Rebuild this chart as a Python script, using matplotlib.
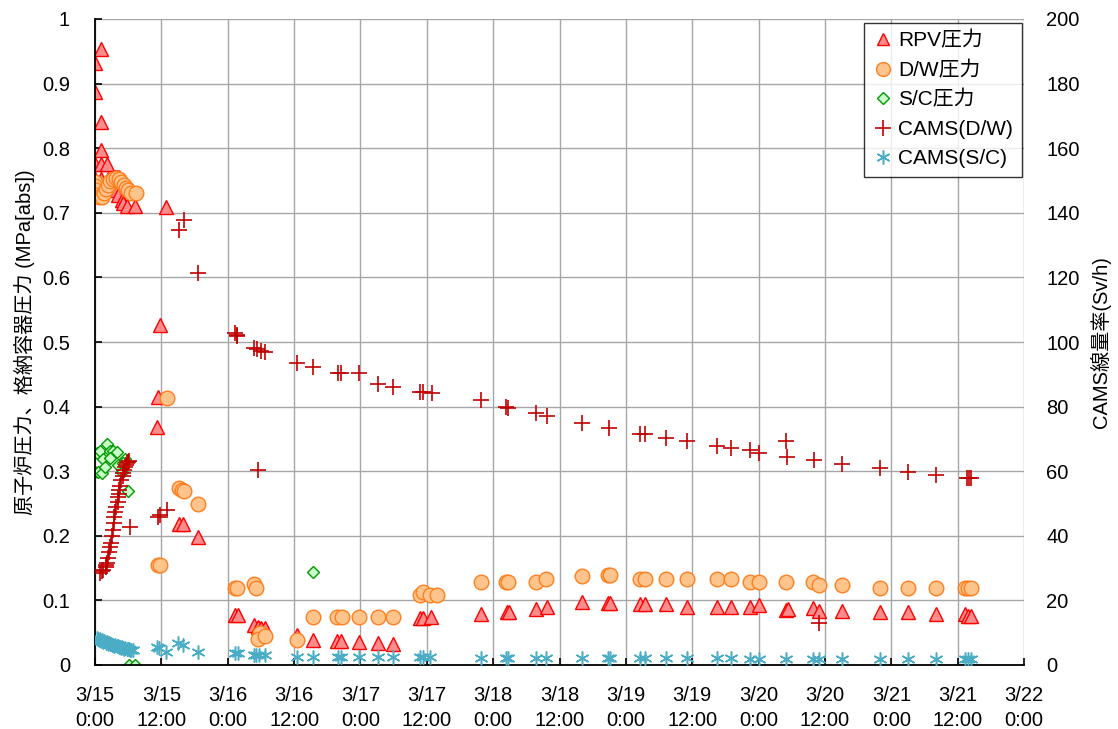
import matplotlib
matplotlib.use("Agg")
import matplotlib.pyplot as plt
from matplotlib.lines import Line2D

plt.rcParams['font.family'] = ['Liberation Sans', 'Noto Sans CJK JP', 'DejaVu Sans']

# hours since 3/15 0:00
rpv_t = [0, 1, 0, 1, 1, 0, 1, 2.2, 0, 1, 2.3, 3.3, 3.6, 4.0, 4.3, 3.9, 4.1, 4.8, 5.1, 5.8, 7.2, 12.8,
         11.2, 11.4, 11.8, 15.2, 15.9, 18.6,
         25.3, 25.9, 28.8, 29.5, 30.1, 30.7, 36.5, 39.5, 43.7, 44.5, 47.7, 51.1, 53.9, 58.8, 59.4, 60.7,
         69.8, 74.5, 74.9, 79.7, 81.7, 88, 92.8, 93.2, 98.6, 99.5, 103.3, 107, 112.5, 115,
         118.4, 120, 125, 125.3, 129.8, 131, 135, 142, 147, 152, 157.3, 157.9, 158.5]
rpv_p = [0.932, 0.954, 0.887, 0.841, 0.797, 0.775, 0.775, 0.775, 0.752, 0.752, 0.752, 0.756, 0.756, 0.756, 0.756,
         0.735, 0.727, 0.72, 0.715, 0.71, 0.71, 0.709,
         0.369, 0.415, 0.526, 0.218, 0.218, 0.198,
         0.077, 0.077, 0.062, 0.059, 0.058, 0.057, 0.047, 0.039, 0.037, 0.037, 0.036, 0.034, 0.032, 0.072, 0.072, 0.074,
         0.079, 0.082, 0.082, 0.087, 0.09, 0.098, 0.096, 0.096, 0.094, 0.094, 0.094, 0.09, 0.09, 0.09,
         0.09, 0.093, 0.085, 0.086, 0.088, 0.084, 0.084, 0.082, 0.082, 0.079, 0.079, 0.076, 0.076]

dw_t = [0, 0, 0.2, 0.4, 0.7, 1.2, 1.6, 2.0, 2.4, 2.7, 3.3, 3.8, 4.3, 4.7, 5.2, 5.6, 6.0, 6.5, 7.4,
        11.4, 11.8, 13, 15.2, 15.7, 16.1, 18.6,
        25.3, 25.7, 28.8, 29.1, 29.8, 29.5, 30.7, 36.5, 39.5, 43.7, 44.6, 47.7, 51.1, 53.9,
        58.8, 59.4, 60.6, 61.9, 69.8, 74.3, 74.7, 79.7, 81.6, 88.1, 92.8, 93.2, 98.6, 99.5,
        103.3, 107, 112.5, 115, 118.4, 120, 125, 129.8, 131, 135, 142, 147, 152, 157.3, 157.9, 158.5]
dw_p = [0.748, 0.741, 0.735, 0.728, 0.725, 0.725, 0.73, 0.737, 0.743, 0.749, 0.752, 0.754, 0.752, 0.748,
        0.743, 0.738, 0.735, 0.73, 0.73,
        0.155, 0.155, 0.413, 0.274, 0.271, 0.269, 0.249,
        0.119, 0.119, 0.125, 0.119, 0.05, 0.04, 0.045, 0.039, 0.074, 0.074, 0.074, 0.074, 0.074, 0.074,
        0.109, 0.113, 0.108, 0.108, 0.128, 0.128, 0.128, 0.128, 0.133, 0.138, 0.139, 0.139, 0.133, 0.133,
        0.133, 0.133, 0.133, 0.133, 0.128, 0.128, 0.128, 0.128, 0.124, 0.124, 0.119, 0.119, 0.119,
        0.119, 0.119, 0.119]

sc_t = [0, 0.5, 1.2, 0.4, 0.9, 2.2, 1.5, 2.7, 3.2, 3.9, 4.2, 4.9, 5.4, 5.9, 5.1, 1.8, 2.7, 6.1, 7.2, 39.5]
sc_p = [0.299, 0.299, 0.297, 0.328, 0.331, 0.342, 0.319, 0.331, 0.331, 0.33, 0.31, 0.299, 0.319, 0.269,
        0.313, 0.306, 0.32, 0.0, 0.0, 0.144]

camsdw_t = [0.9, 1.2, 1.5, 1.9, 2.0, 2.2, 2.4, 2.5, 2.7, 2.9, 3.1, 3.2, 3.4, 3.5, 3.6, 3.8, 4.1, 4.1, 4.3, 4.3,
            4.6, 4.7, 5.0, 5.1, 5.3, 5.4, 5.6, 5.8, 5.9, 6.2, 6.3,
            11.4, 11.7, 13, 15.2, 16.1, 18.6, 25.3, 25.6, 25.7, 28.8, 29.3, 30, 30.7, 29.5,
            36.5, 39.5, 44, 44.4, 47.7, 51.1, 53.9, 58.8, 59.4, 61, 69.8, 74.3, 74.7, 79.7, 81.7,
            88.1, 93, 98.6, 99.5, 103.3, 107, 112.5, 115, 118.4, 120, 125, 125.1, 130, 131, 135,
            142, 147, 152, 157.7, 158, 158.4]
camsdw_v = [28.5, 29, 29.5, 30.2, 31, 31.5, 33, 35, 36.5, 37.8, 40, 41.8, 44, 45.8, 47.5, 49, 50.5, 52, 53,
            54.2, 55.5, 57.3, 58.5, 59.4, 60.3, 61.3, 62, 62.5, 62.9, 63.3, 42.7,
            45.8, 46.4, 48, 134.7, 137.8, 121.4, 102.8, 101.9, 102.3, 98.1, 97.8, 97.2, 96.9, 60.4,
            93.5, 92.3, 90.4, 90.4, 90.4, 87, 86.1, 84.5, 84.5, 84.2, 82, 79.9, 79.6, 78, 77.1,
            74.9, 73.4, 71.5, 71.5, 70.3, 69.3, 67.8, 67.2, 66.6, 65.6, 69.3, 64.4, 63.5, 13, 62.2,
            61, 59.8, 58.8, 57.9, 57.9, 57.9]

camssc_t = [0.3, 0.5, 0.7, 0.9, 1.1, 1.3, 1.5, 1.7, 1.9, 2.1, 2.3, 2.5, 2.7, 2.9, 3.1, 3.3, 3.5, 3.7, 3.9,
            4.1, 4.3, 4.5, 4.7, 4.9, 5.1, 5.3, 5.5, 5.7, 5.9, 6.1, 6.3, 6.6, 6.9,
            11.2, 11.5, 12.8, 15, 15.9, 18.6, 25.3, 25.8, 28.8, 29.2, 29.6, 30.7, 36.5, 39.5, 43.9,
            44.4, 47.7, 51.1, 53.9, 58.8, 59.3, 60.6, 69.8, 74.3, 74.7, 79.7, 81.6, 88.1, 92.8, 93.2,
            98.6, 99.5, 103.3, 107, 112.5, 115, 118.4, 120, 125, 129.8, 131, 135, 142, 147, 152,
            157.3, 157.9, 158.5]
camssc_v = [8.4, 8.0, 7.7, 8.2, 7.4, 7.6, 7.1, 7.3, 6.9, 7.0, 6.6, 6.8, 6.4, 6.5, 6.2, 6.3, 6.0, 6.1, 5.8,
            5.9, 5.6, 5.7, 5.4, 5.5, 5.3, 5.1, 5.2, 4.9, 5.0, 4.8, 4.7, 4.6, 4.6,
            5.6, 5.2, 4.1, 6.8, 6.2, 4.1, 3.7, 3.7, 3.1, 3.1, 3.0, 3.1, 2.5, 2.5, 2.5,
            2.5, 2.5, 2.5, 2.5, 2.4, 2.4, 2.4, 2.2, 2.2, 2.2, 2.2, 2.2, 2.2, 2.2, 2.2,
            2.2, 2.2, 2.2, 2.2, 2.2, 2.2, 2.0, 2.0, 2.0, 2.0, 2.0, 2.0, 2.0, 2.0, 2.0,
            1.9, 1.9, 1.9]

xtick_labels = ['3/15\n0:00', '3/15\n12:00', '3/16\n0:00', '3/16\n12:00', '3/17\n0:00', '3/17\n12:00',
                '3/18\n0:00', '3/18\n12:00', '3/19\n0:00', '3/19\n12:00', '3/20\n0:00', '3/20\n12:00',
                '3/21\n0:00', '3/21\n12:00', '3/22\n0:00']
left_ticks = [0, 0.1, 0.2, 0.3, 0.4, 0.5, 0.6, 0.7, 0.8, 0.9, 1.0]
left_labels = ['0', '0.1', '0.2', '0.3', '0.4', '0.5', '0.6', '0.7', '0.8', '0.9', '1']
right_ticks = [0, 20, 40, 60, 80, 100, 120, 140, 160, 180, 200]

fig = plt.figure(figsize=(11.18, 7.29), dpi=100)
ax = fig.add_axes([95/1118, 1-665/729, (1024-95)/1118, (665-19)/729])
ax2 = ax.twinx()

fs = 14.5
c_rpv_e, c_rpv_f = '#FF0000', '#FF8C8C'
c_dw_e, c_dw_f = '#FF7F1E', '#FFC48C'
c_sc_e, c_sc_f = '#009A00', '#C8FFC8'
c_cdw = '#C00000'
c_csc = '#4BACC6'
ast = (6, 2, 0)

ax.plot(rpv_t, rpv_p, linestyle='none', marker='^', ms=9.5, mfc=c_rpv_f, mec=c_rpv_e, mew=1)
ax.plot(dw_t, dw_p, linestyle='none', marker='o', ms=10.5, mfc=c_dw_f, mec=c_dw_e, mew=1)
ax.plot(sc_t, sc_p, linestyle='none', marker='D', ms=6.5, mfc=c_sc_f, mec=c_sc_e, mew=1)
ax2.plot(camsdw_t, camsdw_v, linestyle='none', marker='+', ms=11, mec=c_cdw, mew=1.2)
ax2.plot(camssc_t, camssc_v, linestyle='none', marker=ast, ms=10, mec=c_csc, mew=1.1)

ax.set_xlim(0, 168)
ax.set_ylim(0, 1)
ax2.set_ylim(0, 200)
ax.set_xticks([12 * i for i in range(15)])
ax.set_xticklabels(xtick_labels, fontsize=fs, linespacing=1.4)
ax.set_yticks(left_ticks)
ax.set_yticklabels(left_labels, fontsize=fs)
ax2.set_yticks(right_ticks)
ax2.set_yticklabels([str(v) for v in right_ticks], fontsize=fs)

ax.grid(True, color='#A6A6A6', lw=1)
ax.set_axisbelow(True)
for s in ['top', 'right']:
    ax.spines[s].set_visible(False)
for s in ['top', 'right', 'left', 'bottom']:
    ax2.spines[s].set_visible(False)
ax.spines['left'].set_linewidth(1.3)
ax.spines['bottom'].set_linewidth(1.3)
ax.tick_params(axis='y', direction='in', length=5, width=1.2, pad=18)
ax.tick_params(axis='x', direction='in', length=5, width=1.2, pad=15)
ax2.tick_params(axis='y', length=0, pad=16)

ax.set_ylabel('原子炉圧力、格納容器圧力 (MPa[abs])', fontsize=fs, labelpad=5)
ax2.set_ylabel('CAMS線量率(Sv/h)', fontsize=fs, labelpad=7)

handles = [
    Line2D([], [], linestyle='none', marker='^', ms=9, mfc=c_rpv_f, mec=c_rpv_e),
    Line2D([], [], linestyle='none', marker='o', ms=10, mfc=c_dw_f, mec=c_dw_e),
    Line2D([], [], linestyle='none', marker='D', ms=6.5, mfc=c_sc_f, mec=c_sc_e),
    Line2D([], [], linestyle='none', marker='+', ms=11, mec=c_cdw, mew=1.2),
    Line2D([], [], linestyle='none', marker=ast, ms=10, mec=c_csc, mew=1.1),
]
labels = ['RPV圧力', 'D/W圧力', 'S/C圧力', 'CAMS(D/W)', 'CAMS(S/C)']
leg = ax2.legend(handles, labels, loc='upper right', bbox_to_anchor=(0.9975, 0.994), fontsize=15,
                 frameon=True, fancybox=False, edgecolor='black', handlelength=1.0, handletextpad=0.25,
                 borderpad=0.4, labelspacing=0.5, borderaxespad=0)
leg.get_frame().set_linewidth(1.0)

fig.savefig('out.png', dpi=100)
